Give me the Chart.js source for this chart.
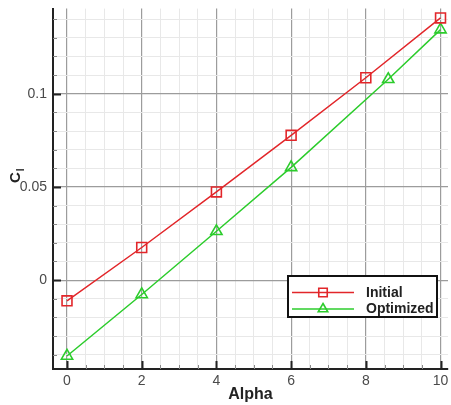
<!DOCTYPE html>
<html>
<head>
<meta charset="utf-8">
<script src="https://cdn.jsdelivr.net/npm/chart.js@4/dist/chart.umd.min.js"></script>
<style>
  html, body { margin: 0; padding: 0; background: #fff; }
  canvas { display: block; }
</style>
</head>
<body>
<canvas id="chart" width="451" height="405"></canvas>
<script>
// Lift coefficient vs angle of attack
const ALPHA_INITIAL = [0, 2, 4, 6, 8, 10];
const CL_INITIAL = [-0.0111, 0.0175, 0.0473, 0.0777, 0.1086, 0.1407];
const ALPHA_OPTIMIZED = [0, 2, 4, 6, 8.6, 10];
const CL_OPTIMIZED = [-0.0407, -0.0077, 0.0262, 0.0605, 0.1078, 0.1344];

const X_MAJOR = [0, 2, 4, 6, 8, 10];
const Y_MAJOR = [0, 0.05, 0.1];
const X_LIMITS = [-0.375, 10.2];
const Y_LIMITS = [-0.0477, 0.1457];
const SERIES_NAMES = ['Initial', 'Optimized'];

const RED = '#e2262a';
const GREEN = '#2ccc2c';
const FONT = '"Liberation Sans", Arial, sans-serif';

// minor grid positions (axis decoration, not data)
const xTicks = [];
for (let k = 0; k <= 20; k++) xTicks.push(k / 2);
const yTicks = [];
for (let k = -4; k <= 14; k++) yTicks.push(Math.round(k * 10) / 1000);

const near = (list, v) => list.some(m => Math.abs(m - v) < 1e-6);
const isMajorX = v => near(X_MAJOR, v);
const isMajorY = v => near(Y_MAJOR, v);

const toPoints = (xs, ys) => xs.map((x, i) => ({ x, y: ys[i] }));

// pin the plot area to where it sits in the reference
const PLOT_BOX = { left: 53, top: 8, right: 448, bottom: 369 };

const inwardTicks = {
  id: 'inwardTicks',
  beforeDatasetsDraw(chart) {
    const { ctx, chartArea: a, scales: { x, y } } = chart;
    ctx.save();
    x.ticks.forEach(t => {
      const px = Math.round(x.getPixelForValue(t.value)) + 0.5;
      const major = isMajorX(t.value);
      ctx.strokeStyle = major ? '#222' : '#888';
      ctx.lineWidth = major ? 2 : 1;
      ctx.beginPath();
      ctx.moveTo(px, a.bottom);
      ctx.lineTo(px, a.bottom - (major ? 8 : 4));
      ctx.stroke();
    });
    y.ticks.forEach(t => {
      const py = Math.round(y.getPixelForValue(t.value)) + 0.5;
      const major = isMajorY(t.value);
      ctx.strokeStyle = major ? '#222' : '#888';
      ctx.lineWidth = major ? 2 : 1;
      ctx.beginPath();
      ctx.moveTo(a.left, py);
      ctx.lineTo(a.left + (major ? 8 : 4), py);
      ctx.stroke();
    });
    ctx.restore();
  }
};

const yTitleAndLegend = {
  id: 'yTitleAndLegend',
  afterDraw(chart) {
    const { ctx } = chart;
    ctx.save();
    // y axis title: C with subscript l
    ctx.translate(20, 183);
    ctx.rotate(-Math.PI / 2);
    ctx.fillStyle = '#222';
    ctx.textBaseline = 'alphabetic';
    ctx.font = 'bold 15px ' + FONT;
    ctx.fillText('C', 0, 0);
    const cw = ctx.measureText('C').width;
    ctx.font = 'bold 10px ' + FONT;
    ctx.fillText('l', cw + 1, 4);
    ctx.restore();

    // legend box
    ctx.save();
    ctx.fillStyle = '#fff';
    ctx.fillRect(288, 276, 149, 41);
    ctx.strokeStyle = '#111';
    ctx.lineWidth = 2;
    ctx.strokeRect(288, 276, 149, 41);
    const rows = [292.5, 309];
    chart.data.datasets.forEach((ds, i) => {
      const ly = rows[i];
      ctx.strokeStyle = ds.borderColor;
      ctx.lineWidth = 1.5;
      ctx.beginPath();
      ctx.moveTo(292, ly);
      ctx.lineTo(354, ly);
      ctx.stroke();
      ctx.fillStyle = 'rgba(0,0,0,0)';
      ctx.lineWidth = ds.pointBorderWidth;
      Chart.helpers.drawPoint(ctx, {
        pointStyle: ds.pointStyle, radius: ds.pointRadius - 1, borderWidth: ds.pointBorderWidth, rotation: 0
      }, 323, ly);
      ctx.fillStyle = '#222';
      ctx.font = 'bold 14px ' + FONT;
      ctx.textBaseline = 'middle';
      ctx.fillText(ds.label, 366, ly + 0.5);
    });
    ctx.restore();
  }
};

new Chart(document.getElementById('chart'), {
  type: 'line',
  data: {
    datasets: [
      {
        label: SERIES_NAMES[0],
        data: toPoints(ALPHA_INITIAL, CL_INITIAL),
        borderColor: RED, borderWidth: 1.5,
        pointStyle: 'rect', pointRadius: 7, pointBorderWidth: 1.6,
        pointBorderColor: RED, pointBackgroundColor: 'rgba(0,0,0,0)',
        tension: 0,
      },
      {
        label: SERIES_NAMES[1],
        data: toPoints(ALPHA_OPTIMIZED, CL_OPTIMIZED),
        borderColor: GREEN, borderWidth: 1.5,
        pointStyle: 'triangle', pointRadius: 6.5, pointBorderWidth: 1.6,
        pointBorderColor: GREEN, pointBackgroundColor: 'rgba(0,0,0,0)',
        tension: 0,
      },
    ],
  },
  options: {
    responsive: false,
    animation: false,
    layout: { padding: { top: PLOT_BOX.top, right: 451 - PLOT_BOX.right, left: 0, bottom: 0 } },
    plugins: { legend: { display: false }, tooltip: { enabled: false } },
    scales: {
      x: {
        type: 'linear', min: X_LIMITS[0], max: X_LIMITS[1],
        afterBuildTicks: s => { s.ticks = xTicks.map(v => ({ value: v })); },
        afterFit: s => { s.height = 405 - PLOT_BOX.bottom; s.paddingLeft = 0; s.paddingRight = 0; },
        grid: {
          drawTicks: false,
          color: c => (c.tick && isMajorX(c.tick.value)) ? '#9c9c9c' : '#e8e8e8',
          lineWidth: c => (c.tick && isMajorX(c.tick.value)) ? 1.2 : 1,
        },
        border: { color: '#222', width: 2 },
        ticks: {
          autoSkip: false, maxRotation: 0, padding: 4,
          color: '#4a4a4a', font: { family: FONT, size: 14 },
          callback: v => isMajorX(v) ? String(Math.round(v)) : '',
        },
        title: {
          display: true, text: 'Alpha', color: '#222',
          font: { family: FONT, size: 16, weight: 'bold' },
          padding: { top: 0, bottom: 1 },
        },
      },
      y: {
        type: 'linear', min: Y_LIMITS[0], max: Y_LIMITS[1],
        afterBuildTicks: s => { s.ticks = yTicks.map(v => ({ value: v })); },
        afterFit: s => { s.width = PLOT_BOX.left; s.paddingTop = 0; s.paddingBottom = 0; },
        grid: {
          drawTicks: false,
          color: c => (c.tick && isMajorY(c.tick.value)) ? '#9c9c9c' : '#e8e8e8',
          lineWidth: c => (c.tick && isMajorY(c.tick.value)) ? 1.2 : 1,
        },
        border: { color: '#222', width: 2 },
        ticks: {
          autoSkip: false, padding: 6,
          color: '#4a4a4a', font: { family: FONT, size: 14 },
          callback: v => isMajorY(v) ? String(Y_MAJOR.find(m => Math.abs(m - v) < 1e-6)) : '',
        },
      },
    },
  },
  plugins: [inwardTicks, yTitleAndLegend, {
    id: 'pinArea',
    afterLayout(chart) {
      // force the plot box, then let the scales recompute their pixel mapping
      const { x, y } = chart.scales;
      const a = chart.chartArea;
      if (a.right !== PLOT_BOX.right) {
        a.right = PLOT_BOX.right; a.width = a.right - a.left;
        x.right = PLOT_BOX.right; x.width = x.right - x.left;
        x.configure();
        y.configure();
      }
    },
  }],
});
</script>
</body>
</html>
